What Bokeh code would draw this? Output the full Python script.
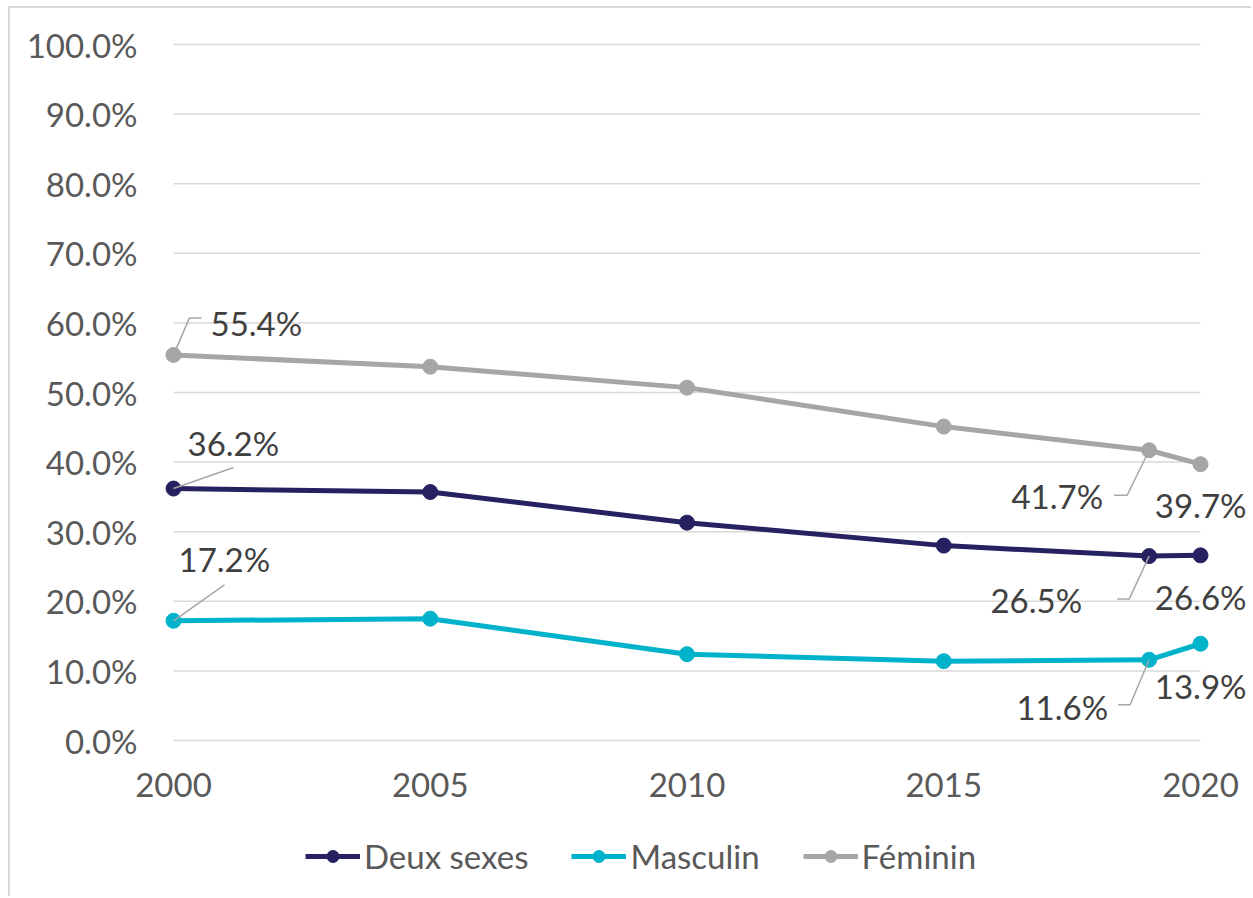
from bokeh.plotting import figure
from bokeh.models import Range1d, Legend, LegendItem, ColumnDataSource, LabelSet, FixedTicker
from bokeh.core.properties import value
from bokeh.embed import file_html
from bokeh.resources import INLINE

# ---------------- data ----------------
years = [2000, 2005, 2010, 2015, 2019, 2020]
deux_sexes = [36.2, 35.7, 31.3, 28.0, 26.5, 26.6]
masculin = [17.2, 17.5, 12.4, 11.4, 11.6, 13.9]
feminin = [55.4, 53.7, 50.7, 45.1, 41.7, 39.7]
series_names = ["Deux sexes", "Masculin", "Féminin"]
x_ticks = [2000, 2005, 2010, 2015, 2020]
y_ticks = [0, 10, 20, 30, 40, 50, 60, 70, 80, 90, 100]
labelled_years = [2000, 2019, 2020]

# ---------------- style ----------------
colors = ["#262262", "#00B2CA", "#A6A6A6"]
FONT = "Lato"
FS = "33px"
CANVAS_W, CANVAS_H = 1241, 888
PAD_L, PAD_R = 163, 51       # px left of 2000 / right of 2020
ABOVE, BELOW = 36, 156       # px above 100% / below 0%
YAXIS_GAP = 23               # px between y-axis anchor and 2000
PXX = (CANVAS_W - PAD_L - PAD_R) / (x_ticks[-1] - x_ticks[0])
PXY = (CANVAS_H - ABOVE - BELOW) / (y_ticks[-1] - y_ticks[0])

# label offsets in screen px (dx right, dy down) and alignment per series/year
label_style = {
    "Féminin":    {2000: (37, -32, "left"), 2019: (-46, 46, "right"), 2020: (46, 41, "right")},
    "Deux sexes": {2000: (14, -46, "left"), 2019: (-67, 44, "right"), 2020: (46, 42, "right")},
    "Masculin":   {2000: (5, -62, "left"), 2019: (-41, 47, "right"), 2020: (46, 42, "right")},
}
leader_style = {
    "Féminin":    {2000: [(0, 0), (16, -37), (28, -37)], 2019: [(0, 0), (-22, 45), (-35, 45)]},
    "Deux sexes": {2000: [(0, 0), (60, -21)], 2019: [(0, 0), (-20, 43), (-32, 43)]},
    "Masculin":   {2000: [(0, 0), (51, -36)], 2019: [(0, 0), (-19, 45), (-31, 45)]},
}

x0 = x_ticks[0] - PAD_L / PXX
x1 = x_ticks[-1] + PAD_R / PXX
y0 = y_ticks[0] - BELOW / PXY
y1 = y_ticks[-1] + ABOVE / PXY

p = figure(frame_width=CANVAS_W, frame_height=CANVAS_H,
           min_border_left=0, min_border_right=0, min_border_top=0, min_border_bottom=0,
           x_range=Range1d(x0, x1), y_range=Range1d(y0, y1),
           output_backend="svg", toolbar_location=None)
p.outline_line_color = None
p.xgrid.visible = False
p.ygrid.visible = False
p.styles = {"margin-left": "8px", "margin-top": "6px",
            "border-left": "2px solid #D9D9D9", "border-top": "2px solid #D9D9D9"}

# gridlines drawn across the data span
p.segment(x0=[x_ticks[0]] * len(y_ticks), x1=[x_ticks[-1]] * len(y_ticks),
          y0=y_ticks, y1=y_ticks, line_color="#D9D9D9", line_width=1.5)

for ax in (p.xaxis, p.yaxis):
    ax.axis_line_color = None
    ax.major_tick_line_color = None
    ax.minor_tick_line_color = None
    ax.major_tick_in = 0
    ax.major_tick_out = 0
    ax.major_label_text_font = FONT
    ax.major_label_text_font_size = FS
    ax.major_label_text_color = "#595959"
p.xaxis.ticker = FixedTicker(ticks=x_ticks)
p.yaxis.ticker = FixedTicker(ticks=y_ticks)
p.yaxis.major_label_overrides = {v: f"{v:.1f}%" for v in y_ticks}
p.xaxis.major_label_overrides = {v: str(v) for v in x_ticks}
p.yaxis.major_label_standoff = 13
p.xaxis.major_label_standoff = 32
p.xaxis.fixed_location = y_ticks[0]
p.yaxis.fixed_location = x_ticks[0] - YAXIS_GAP / PXX

all_series = [deux_sexes, masculin, feminin]
items = []
for name, vals, col in zip(series_names, all_series, colors):
    src = ColumnDataSource(dict(x=years, y=vals))
    ln = p.line("x", "y", source=src, line_color=col, line_width=5)
    sc = p.scatter("x", "y", source=src, size=15, fill_color=col, line_color=col)
    items.append(LegendItem(label=name, renderers=[ln, sc]))

# leader lines
xs, ys = [], []
for name, vals in zip(series_names, all_series):
    for yr, pts in leader_style[name].items():
        v = vals[years.index(yr)]
        xs.append([yr + dx / PXX for dx, dy in pts])
        ys.append([v - dy / PXY for dx, dy in pts])
p.multi_line(xs, ys, line_color="#A6A6A6", line_width=1.5)

# data labels
for align in ("left", "right"):
    lx, ly, lt = [], [], []
    for name, vals in zip(series_names, all_series):
        for yr in labelled_years:
            dx, dy, a = label_style[name][yr]
            if a != align:
                continue
            v = vals[years.index(yr)]
            lx.append(yr + dx / PXX)
            ly.append(v - dy / PXY)
            lt.append(f"{v:.1f}%")
    lab = LabelSet(x="x", y="y", text="t", source=ColumnDataSource(dict(x=lx, y=ly, t=lt)),
                   text_align=align, text_baseline="middle", text_font=value(FONT),
                   text_font_size=value(FS), text_color="#404040")
    p.add_layout(lab)

legend = Legend(items=items, orientation="horizontal", location=(295, 20))
legend.label_text_font = FONT
legend.label_text_font_size = FS
legend.label_text_color = "#595959"
legend.glyph_width = 55
legend.glyph_height = 30
legend.label_standoff = 4
legend.spacing = 43
legend.padding = 0
legend.margin = 0
legend.border_line_color = None
legend.background_fill_alpha = 0
p.add_layout(legend, "center")

open("out.html", "w").write(file_html(p, INLINE))
